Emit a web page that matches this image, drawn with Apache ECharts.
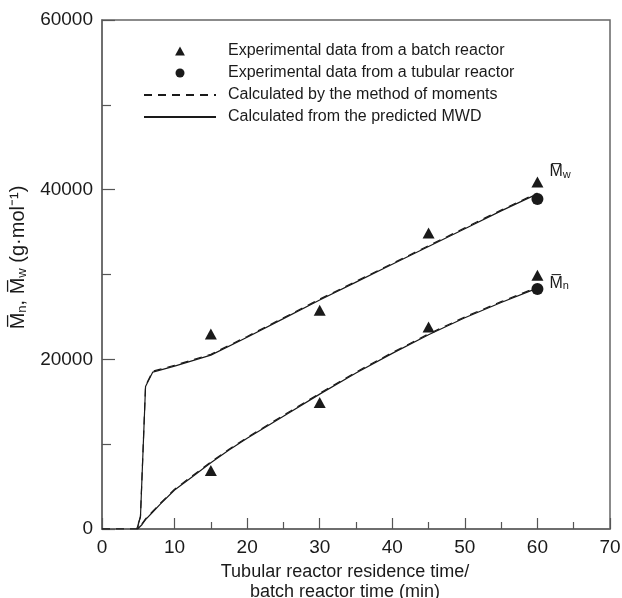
<!DOCTYPE html>
<html>
<head>
<meta charset="utf-8">
<script src="https://cdn.jsdelivr.net/npm/echarts@6/dist/echarts.min.js"></script>
<style>
  html, body { margin: 0; padding: 0; background: #fff; }
  #chart { width: 622px; height: 598px; }
</style>
</head>
<body>
<div id="chart"></div>
<script>
// Experimental averages (g/mol) at each sampling time (min)
const batchTime = [15, 30, 45, 60];
const batchMw = [23000, 25800, 34900, 40900];
const batchMn = [6900, 14900, 23800, 29900];
const tubularTime = [60];
const tubularMw = [38900];
const tubularMn = [28300];

// Method-of-moments predictions
const momentsTimeMw = [0, 4.8, 5.3, 6.0, 7.0, 10, 15, 20, 25, 30, 35, 40, 45, 50, 55, 60];
const momentsMw = [0, 0, 1500, 16900, 18600, 19300, 20600, 22700, 24900, 27100, 29200, 31300, 33400, 35500, 37600, 39600];
const momentsTimeMn = [0, 4.9, 5.5, 6, 7, 8, 10, 12.5, 15, 17.5, 20, 25, 30, 35, 40, 45, 50, 55, 60];
const momentsMn = [0, 0, 600, 1200, 2100, 3000, 4700, 6300, 7900, 9400, 10800, 13400, 16000, 18500, 20800, 23000, 25000, 26800, 28500];

// Averages computed from the predicted molecular weight distribution
const mwdTimeMw = [4.8, 5.3, 6.0, 7.0, 10, 15, 20, 25, 30, 35, 40, 45, 50, 55, 60];
const mwdMw = [0, 1400, 16800, 18500, 19200, 20500, 22600, 24800, 27000, 29100, 31200, 33300, 35400, 37500, 39500];
const mwdTimeMn = [4.9, 5.5, 6, 7, 8, 10, 12.5, 15, 17.5, 20, 25, 30, 35, 40, 45, 50, 55, 60];
const mwdMn = [0, 500, 1100, 2000, 2900, 4600, 6200, 7800, 9300, 10700, 13300, 15900, 18400, 20700, 22900, 24900, 26700, 28400];

const xTicks = [0, 10, 20, 30, 40, 50, 60, 70];
const yTicks = [0, 20000, 40000, 60000];

const NAME_BATCH = 'Experimental data from a batch reactor';
const NAME_TUBULAR = 'Experimental data from a tubular reactor';
const NAME_MOMENTS = 'Calculated by the method of moments';
const NAME_MWD = 'Calculated from the predicted MWD';

const FONT = '"Liberation Sans", Arial, Helvetica, sans-serif';
const INK = '#1a1a1a';
const FRAME = '#666';

const pairs = (xs, ys) => xs.map((x, i) => [x, ys[i]]);

const bar = '\u0305';
const avgLabel = (sub) => ({
  show: true,
  position: 'right',
  distance: 4,
  formatter: '{m|M' + bar + '}{s|' + sub + '}',
  rich: {
    m: { fontFamily: FONT, fontSize: 16, color: INK },
    s: { fontFamily: FONT, fontSize: 11, color: INK, verticalAlign: 'bottom', padding: [6, 0, 0, 0] }
  }
});

const batchData = pairs(batchTime, batchMw).map((p, i) =>
  i === batchTime.length - 1 ? { value: p, label: Object.assign(avgLabel('w'), { offset: [2, -10] }) } : p
).concat(pairs(batchTime, batchMn).map((p, i) =>
  i === batchTime.length - 1 ? { value: p, label: Object.assign(avgLabel('n'), { offset: [2, 8] }) } : p
));

const lineStyleSolid = { color: INK, width: 1.2, type: 'solid' };
const lineStyleDashed = { color: INK, width: 1.2, type: [8, 6] };
const hiddenMarker = { opacity: 0 };
// Upright triangle glyph that keeps its proportions inside the legend box
const TRIANGLE_ICON = 'path://M0,11L6,0L12,11Z';

const chart = echarts.init(document.getElementById('chart'), null, { renderer: 'canvas' });

chart.setOption({
  animation: false,
  backgroundColor: '#fff',
  grid: {
    left: 102, right: 12, top: 20, bottom: 69,
    outerBoundsMode: 'none',
    containLabel: false,
    show: true, borderColor: FRAME, borderWidth: 1.5, backgroundColor: 'transparent'
  },
  legend: {
    orient: 'vertical',
    left: 138,
    top: 38,
    itemWidth: 72,
    itemHeight: 9,
    itemGap: 6,
    symbolKeepAspect: true,
    selectedMode: false,
    textStyle: { fontFamily: FONT, fontSize: 16, color: INK, padding: [0, 0, 0, 7] },
    data: [
      { name: NAME_BATCH, icon: TRIANGLE_ICON },
      { name: NAME_TUBULAR, icon: 'circle' },
      { name: NAME_MOMENTS, itemStyle: hiddenMarker },
      { name: NAME_MWD, itemStyle: hiddenMarker }
    ]
  },
  xAxis: {
    type: 'value',
    min: xTicks[0],
    max: xTicks[xTicks.length - 1],
    interval: 10,
    splitLine: { show: false },
    axisLine: { show: true, lineStyle: { color: FRAME, width: 1.5 } },
    axisTick: { show: true, inside: true, length: 11, lineStyle: { color: '#555', width: 1.2 } },
    minorTick: { show: true, splitNumber: 2, length: 7, lineStyle: { color: '#555', width: 1.2 } },
    axisLabel: { fontFamily: FONT, fontSize: 19, color: INK, margin: 9 },
    name: 'Tubular reactor residence time/\nbatch reactor time (min)',
    nameLocation: 'middle',
    nameGap: 29,
    nameTextStyle: { fontFamily: FONT, fontSize: 18, color: INK, lineHeight: 20, padding: [0, 22, 0, 0] }
  },
  yAxis: {
    type: 'value',
    min: yTicks[0],
    max: yTicks[yTicks.length - 1],
    interval: 20000,
    splitLine: { show: false },
    axisLine: { show: true, lineStyle: { color: FRAME, width: 1.5 } },
    axisTick: { show: true, inside: true, length: 13, lineStyle: { color: '#555', width: 1.2 } },
    minorTick: { show: true, splitNumber: 2, length: 9, lineStyle: { color: '#555', width: 1.2 } },
    axisLabel: { fontFamily: FONT, fontSize: 19, color: INK, margin: 9, formatter: (v) => String(v) },
    name: '{m|M' + bar + '}{s|n}{m|, M' + bar + '}{s|w}{m| (g·mol⁻¹)}',
    nameLocation: 'middle',
    nameGap: 62,
    nameTextStyle: {
      padding: [0, 0, 0, 34],
      rich: {
        m: { fontFamily: FONT, fontSize: 20, color: INK },
        s: { fontFamily: FONT, fontSize: 13, color: INK, verticalAlign: 'bottom', padding: [8, 0, 0, 0] }
      }
    }
  },
  series: [
    {
      name: NAME_MWD, type: 'line', symbol: 'none', data: pairs(mwdTimeMw, mwdMw),
      lineStyle: lineStyleSolid, itemStyle: { color: INK }, z: 2
    },
    {
      name: NAME_MWD, type: 'line', symbol: 'none', data: pairs(mwdTimeMn, mwdMn),
      lineStyle: lineStyleSolid, itemStyle: { color: INK }, z: 2
    },
    {
      name: NAME_MOMENTS, type: 'line', symbol: 'none', data: pairs(momentsTimeMw, momentsMw),
      lineStyle: lineStyleDashed, itemStyle: { color: INK }, z: 3
    },
    {
      name: NAME_MOMENTS, type: 'line', symbol: 'none', data: pairs(momentsTimeMn, momentsMn),
      lineStyle: lineStyleDashed, itemStyle: { color: INK }, z: 3
    },
    {
      name: NAME_BATCH, type: 'scatter', symbol: 'triangle', symbolSize: [12, 11],
      itemStyle: { color: INK, opacity: 1 }, data: batchData, z: 4
    },
    {
      name: NAME_TUBULAR, type: 'scatter', symbol: 'circle', symbolSize: 12,
      itemStyle: { color: INK, opacity: 1 }, z: 4,
      data: pairs(tubularTime, tubularMw).concat(pairs(tubularTime, tubularMn))
    }
  ]
});
</script>
</body>
</html>
